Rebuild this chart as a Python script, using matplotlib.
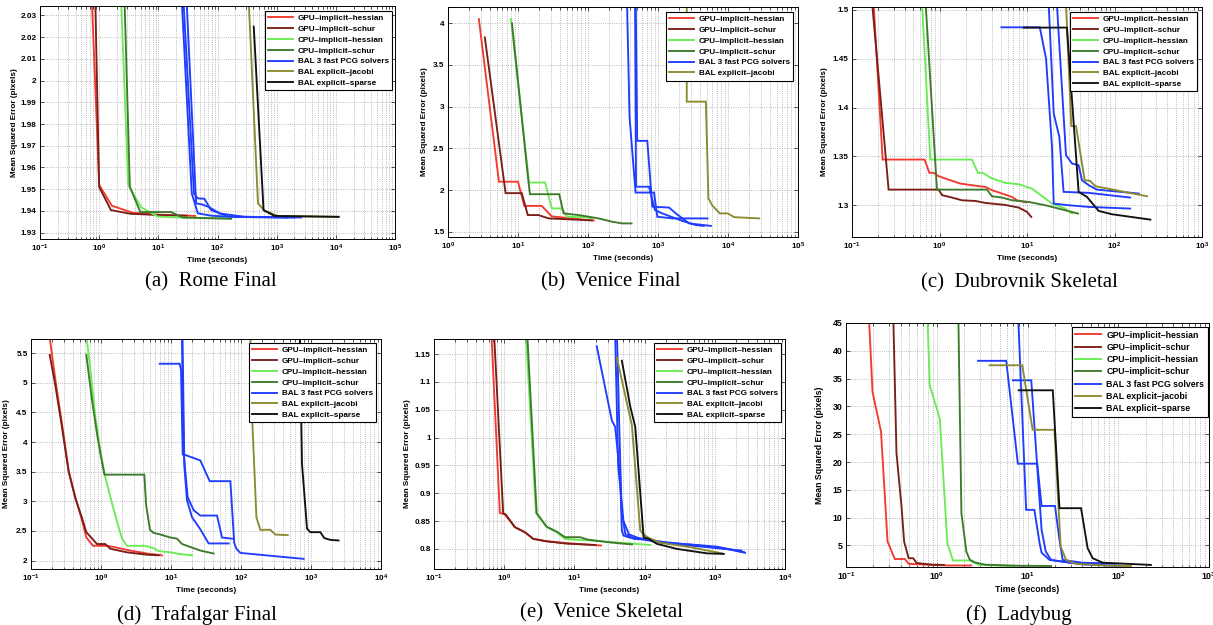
import numpy as np
import matplotlib
matplotlib.use("Agg")
import matplotlib.pyplot as plt
from matplotlib.ticker import LogLocator, FixedLocator, FuncFormatter, NullFormatter

# ---------------------------------------------------------------------------
# Series labels and colours (shared by all panels)
# ---------------------------------------------------------------------------
LABELS = ["GPU\u2013implicit\u2013hessian", "GPU\u2013implicit\u2013schur",
          "CPU\u2013implicit\u2013hessian", "CPU\u2013implicit\u2013schur",
          "BAL 3 fast PCG solvers", "BAL explicit\u2013jacobi",
          "BAL explicit\u2013sparse"]
COLORS = ["#f23a30", "#7a1e18", "#6aec55", "#3d7a2c", "#1f3cff", "#8b8a30", "#111111"]

# ---------------------------------------------------------------------------
# (a) Rome Final : (time [s], mean squared error [px])
# ---------------------------------------------------------------------------
rome_gpu_hessian = ([0.72, 1.0, 1.64, 3.67, 9.75, 18.6, 42],
                    [2.05, 1.952, 1.9424, 1.9392, 1.9383, 1.9381, 1.9377])
rome_gpu_schur = ([0.84, 1.0, 1.58, 3.4, 11, 30],
                  [2.05, 1.951, 1.9404, 1.9387, 1.9381, 1.9378])
rome_cpu_hessian = ([2.25, 3.1, 5.1, 9.8, 27.5, 170],
                    [2.05, 1.952, 1.9417, 1.9374, 1.9369, 1.9366])
rome_cpu_schur = ([2.6, 3.3, 4.95, 16.4, 25.8, 89, 170],
                  [2.05, 1.9512, 1.9395, 1.9395, 1.937, 1.9366, 1.9364])
rome_bal_pcg = [([23.5, 36.7, 46.5, 80, 200, 2600],
                 [2.05, 1.9481, 1.9389, 1.9378, 1.9372, 1.937]),
                ([25, 40, 46.5, 60, 78, 150, 1500],
                 [2.05, 1.948, 1.9458, 1.9456, 1.9404, 1.9375, 1.937]),
                ([28.5, 43.5, 55, 73, 108, 300, 2000],
                 [2.05, 1.9435, 1.943, 1.9417, 1.9389, 1.9372, 1.937])]
rome_bal_jacobi = ([320, 483, 627, 1050, 11000],
                   [2.05, 1.9435, 1.9401, 1.9377, 1.9373])
rome_bal_sparse = ([410, 600, 925, 11200],
                   [2.0248, 1.9404, 1.9377, 1.9373])

# ---------------------------------------------------------------------------
# (b) Venice Final
# ---------------------------------------------------------------------------
venice_gpu_hessian = ([2.76, 5.34, 10, 12.3, 21.8, 30.4, 91, 121],
                      [4.05, 2.10, 2.10, 1.81, 1.81, 1.684, 1.644, 1.636])
venice_gpu_schur = ([3.36, 6.65, 11.3, 13.8, 19.6, 27.3, 114],
                    [3.83, 1.963, 1.963, 1.70, 1.70, 1.66, 1.636])
venice_cpu_hessian = ([7.94, 14.4, 24.4, 30.4, 42.4, 50, 91.5, 114],
                      [4.05, 2.09, 2.09, 1.78, 1.78, 1.68, 1.675, 1.66])
venice_cpu_schur = ([8.2, 13.9, 14.8, 38.8, 44.8, 73.5, 142, 221, 307, 419],
                    [4.0, 2.15, 1.95, 1.95, 1.72, 1.70, 1.66, 1.62, 1.60, 1.60])
venice_bal_pcg = [([360, 392, 478, 877, 977, 1607, 5100],
                   [4.3, 2.88, 1.97, 1.97, 1.68, 1.66, 1.66]),
                  ([480, 505, 703, 829, 1440, 1795, 2790, 5700],
                   [4.3, 2.59, 2.59, 1.80, 1.79, 1.72, 1.60, 1.57]),
                  ([470, 485, 743, 906, 1150, 2230, 3470, 4500],
                   [4.3, 2.04, 2.04, 1.76, 1.72, 1.63, 1.58, 1.57])]
venice_bal_jacobi = ([2575, 2575, 4830, 5250, 6020, 7680, 9890, 12300, 28000],
                     [4.3, 3.06, 3.06, 1.90, 1.81, 1.72, 1.72, 1.675, 1.66])

# ---------------------------------------------------------------------------
# (c) Dubrovnik Skeletal
# ---------------------------------------------------------------------------
dubrovnik_gpu_hessian = ([0.173, 0.224, 0.676, 0.766, 0.855, 0.978, 1.33, 1.73, 2.35,
                          3.34, 3.98, 5.18, 6.74, 7.7, 9.75],
                         [1.52, 1.3468, 1.3468, 1.3332, 1.3332, 1.3297, 1.3256, 1.3222,
                          1.3205, 1.3188, 1.3154, 1.312, 1.3085, 1.305, 1.303])
dubrovnik_gpu_schur = ([0.165, 0.262, 0.978, 1.07, 1.39, 1.8, 2.57, 3.34, 5.65, 8.04, 10, 11.2],
                       [1.52, 1.316, 1.316, 1.3103, 1.3079, 1.3051, 1.3044, 1.3024, 1.3003,
                        1.2976, 1.2932, 1.288])
dubrovnik_cpu_hessian = ([0.62, 0.785, 2.35, 2.75, 3.1, 3.98, 5.65, 8.04, 11.4, 13.6, 19.3, 27.4, 32.7],
                         [1.52, 1.3468, 1.3468, 1.3332, 1.3332, 1.3274, 1.323, 1.3215, 1.317,
                          1.312, 1.3017, 1.2966, 1.2915])
dubrovnik_cpu_schur = ([0.68, 0.935, 3.49, 3.98, 5.18, 6.74, 10.5, 16.2, 23, 38.3],
                       [1.52, 1.316, 1.316, 1.3092, 1.3079, 1.3051, 1.3034, 1.30, 1.2966, 1.2915])
dubrovnik_bal_pcg = [([5.09, 14, 16.5, 19.3, 20.2, 29.9, 50.7, 151],
                      [1.4822, 1.4822, 1.4504, 1.3598, 1.3017, 1.30, 1.2983, 1.2966]),
                     ([17.4, 20.2, 23.4, 26.2, 50.7, 151],
                      [1.52, 1.394, 1.37, 1.3137, 1.3127, 1.3079]),
                     ([21.5, 27.9, 32.7, 38.9, 42.5, 50.7, 63, 189],
                      [1.52, 1.3513, 1.3427, 1.341, 1.3256, 1.3205, 1.316, 1.312])]
dubrovnik_bal_jacobi = ([27.5, 32.1, 36.3, 45.6, 52.6, 60.4, 235],
                        [1.52, 1.381, 1.381, 1.3256, 1.325, 1.3195, 1.3092])
dubrovnik_bal_sparse = ([9.17, 28.6, 32.7, 38.9, 48.5, 65.9, 93.5, 257],
                        [1.4819, 1.4819, 1.4077, 1.3137, 1.3085, 1.2942, 1.2908, 1.2853])

# ---------------------------------------------------------------------------
# (d) Trafalgar Final
# ---------------------------------------------------------------------------
trafalgar_gpu_hessian = ([0.183, 0.223, 0.277, 0.345, 0.43, 0.535, 0.617, 0.77, 1.22, 1.52, 2.62, 4.54, 7.43],
                         [5.8, 5.05, 4.31, 3.52, 3.07, 2.68, 2.39, 2.25, 2.25, 2.23, 2.17, 2.12, 2.09])
trafalgar_gpu_schur = ([0.185, 0.223, 0.277, 0.345, 0.43, 0.535, 0.617, 0.877, 1.15, 1.36, 2.35, 4.54, 6.67],
                       [5.47, 4.95, 4.25, 3.50, 3.05, 2.72, 2.48, 2.28, 2.28, 2.20, 2.14, 2.10, 2.09])
trafalgar_cpu_hessian = ([0.617, 0.705, 0.83, 0.977, 1.15, 1.44, 1.79, 2.0, 2.35, 4.3, 5.65, 6.67, 9.77, 13.6, 20],
                         [5.8, 5.22, 4.43, 3.86, 3.41, 2.96, 2.56, 2.37, 2.25, 2.25, 2.21, 2.16, 2.14, 2.11, 2.09])
trafalgar_cpu_schur = ([0.617, 0.743, 0.877, 0.977, 1.12, 4.16, 4.4, 5.0, 5.6, 7.05, 9.77, 12.2, 14.4, 18.9, 26.2, 40.7],
                       [5.47, 4.71, 4.14, 3.81, 3.45, 3.45, 2.95, 2.52, 2.47, 2.44, 2.39, 2.37, 2.28, 2.23, 2.17, 2.12])
trafalgar_bal_pcg = [([6.89, 13.3, 13.9, 14.7, 16.1, 26.2, 35.7, 70.5, 80, 86, 98, 785],
                      [5.32, 5.32, 5.22, 3.79, 3.78, 3.69, 3.34, 3.34, 2.30, 2.20, 2.13, 2.03]),
                     ([14.3, 15.2, 17.3, 21.1, 26.2, 45.4, 53.6, 74.3],
                      [5.8, 3.8, 3.07, 2.85, 2.76, 2.76, 2.39, 2.37]),
                     ([14.6, 15.5, 16.9, 20, 26.2, 34.5, 66.7],
                      [5.8, 3.6, 3.02, 2.73, 2.53, 2.29, 2.29])]
trafalgar_bal_jacobi = ([136, 144, 166, 189, 262, 309, 465],
                        [5.8, 4.43, 2.73, 2.52, 2.52, 2.44, 2.43])
trafalgar_bal_sparse = ([690, 705, 743, 877, 977, 1360, 1550, 1890, 2480],
                        [5.8, 5.33, 3.64, 2.54, 2.48, 2.48, 2.38, 2.35, 2.34])

# ---------------------------------------------------------------------------
# (e) Venice Skeletal
# ---------------------------------------------------------------------------
vskel_gpu_hessian = ([0.655, 0.867, 1.02, 1.42, 1.97, 2.6, 4.02, 7.77, 24],
                     [1.19, 0.8644, 0.862, 0.839, 0.83, 0.818, 0.8139, 0.8103, 0.806])
vskel_gpu_schur = ([0.715, 0.967, 1.05, 1.42, 1.97, 2.6, 4.02, 7.77, 20],
                   [1.19, 0.8644, 0.862, 0.839, 0.83, 0.818, 0.8135, 0.8095, 0.807])
vskel_cpu_hessian = ([2.03, 2.83, 4.02, 5.6, 7.36, 12.1, 23.3, 121],
                     [1.19, 0.8644, 0.839, 0.83, 0.818, 0.816, 0.814, 0.807])
vskel_cpu_schur = ([2.12, 2.9, 4.02, 5.6, 7.36, 12.1, 15, 30, 66],
                   [1.19, 0.8644, 0.84, 0.831, 0.821, 0.821, 0.817, 0.812, 0.808])
vskel_bal_pcg = [([20.8, 34.1, 38.1, 44.9, 47.4, 50, 62.4, 101, 187, 449, 1080, 2600],
                  [1.164, 1.031, 1.019, 0.929, 0.833, 0.824, 0.82, 0.818, 0.811, 0.808, 0.804, 0.794]),
                 ([40.3, 44, 47, 53, 70, 101, 200, 600, 1500, 2700],
                  [1.19, 1.0, 0.87, 0.827, 0.818, 0.817, 0.812, 0.806, 0.800, 0.793]),
                 ([38, 42, 50, 60, 80, 101, 250, 800, 2400],
                  [1.19, 0.95, 0.85, 0.826, 0.82, 0.816, 0.809, 0.803, 0.797])]
vskel_bal_jacobi = ([40.3, 65.9, 86.7, 96.8, 114, 167, 449, 1270],
                    [1.143, 1.022, 0.833, 0.826, 0.82, 0.811, 0.803, 0.792])
vskel_bal_sparse = ([47.4, 62.4, 73.6, 96.8, 114, 150, 290, 776, 1345],
                    [1.138, 1.056, 1.019, 0.821, 0.818, 0.809, 0.800, 0.792, 0.791])

# ---------------------------------------------------------------------------
# (f) Ladybug
# ---------------------------------------------------------------------------
ladybug_gpu_hessian = ([0.179, 0.196, 0.243, 0.287, 0.345, 0.445, 0.49, 0.738, 1.33, 2.4],
                       [46, 32.6, 25.5, 5.7, 2.56, 2.56, 1.7, 1.55, 1.4, 1.4])
ladybug_gpu_schur = ([0.332, 0.36, 0.409, 0.437, 0.49, 0.55, 0.6, 0.875, 1.2],
                     [46, 21.6, 12, 5.7, 2.7, 2.7, 1.85, 1.55, 1.5])
ladybug_cpu_hessian = ([0.79, 0.837, 1.08, 1.31, 1.51, 2.31, 2.85, 5.58, 7.2],
                       [46, 33.8, 27.8, 5.4, 2.3, 2.3, 1.55, 1.3, 1.25])
ladybug_cpu_schur = ([1.73, 1.87, 2.12, 2.31, 2.61, 3.36, 8, 18.2],
                     [46, 10.8, 3.9, 2.44, 1.97, 1.55, 1.35, 1.3])
ladybug_bal_pcg = [([2.85, 5.83, 7.83, 12.8, 14.3, 20.1, 22.5, 24.4, 40, 94],
                    [38.2, 38.2, 19.7, 19.7, 12.1, 12.1, 6.0, 2.4, 1.9, 1.7]),
                   ([7.9, 9.66, 11.9, 13.6, 14.3, 17.5, 40, 107],
                    [46, 11.4, 11.4, 5.4, 3.7, 2.4, 1.6, 1.3]),
                   ([6.9, 11, 14.3, 15.9, 18.2, 30, 70],
                    [34.7, 34.7, 7.8, 3.9, 2.4, 1.9, 1.7])]
ladybug_bal_jacobi = ([3.82, 8.75, 11.4, 19.8, 23.2, 26.6, 34.3, 79.4, 138],
                      [37.4, 37.4, 25.8, 25.8, 4.8, 2.4, 1.7, 1.35, 1.3])
ladybug_bal_sparse = ([8.0, 19, 22.5, 38.9, 46, 52.3, 67.3, 229],
                      [32.9, 32.9, 11.7, 11.7, 4.5, 2.7, 1.9, 1.5])

# ---------------------------------------------------------------------------
# Figure layout (pixel boxes: left, top, right, bottom)
# ---------------------------------------------------------------------------
W, H = 1213, 625
plt.rcParams['font.family'] = ['Liberation Sans', 'DejaVu Sans']
plt.rcParams['font.weight'] = 'bold'
plt.rcParams['mathtext.fontset'] = 'custom'
plt.rcParams['mathtext.rm'] = 'Liberation Sans:bold'
plt.rcParams['mathtext.it'] = 'Liberation Sans:bold'
plt.rcParams['mathtext.bf'] = 'Liberation Sans:bold'
plt.rcParams['axes.linewidth'] = 0.7

fig = plt.figure(figsize=(W / 100, H / 100), dpi=100)

panels = [
    dict(series=[rome_gpu_hessian, rome_gpu_schur, rome_cpu_hessian, rome_cpu_schur,
                 rome_bal_pcg, rome_bal_jacobi, rome_bal_sparse],
         box=(40, 6, 395, 239), xlim=(1e-1, 1e5), ylim=(1.9271, 2.0343),
         yticks=np.round(np.arange(1.93, 2.0301, 0.01), 2), legend_at=(392, 11),
         ylab_dx=25, caption="(a)  Rome Final", cap_at=(211, 282), fs=5.9),
    dict(series=[venice_gpu_hessian, venice_gpu_schur, venice_cpu_hessian, venice_cpu_schur,
                 venice_bal_pcg, venice_bal_jacobi, None],
         box=(448, 7, 798, 237), xlim=(1e0, 1e5), ylim=(1.437, 4.195),
         yticks=np.arange(1.5, 4.01, 0.5), legend_at=(793, 12),
         ylab_dx=23, caption="(b)  Venice Final", cap_at=(611, 282), fs=5.9),
    dict(series=[dubrovnik_gpu_hessian, dubrovnik_gpu_schur, dubrovnik_cpu_hessian,
                 dubrovnik_cpu_schur, dubrovnik_bal_pcg, dubrovnik_bal_jacobi,
                 dubrovnik_bal_sparse],
         box=(852, 7, 1202, 237), xlim=(1e-1, 1e3), ylim=(1.2675, 1.503),
         yticks=np.round(np.arange(1.3, 1.5001, 0.05), 2), legend_at=(1197, 12),
         ylab_dx=28, caption="(c)  Dubrovnik Skeletal", cap_at=(1019, 283), fs=5.9),
    dict(series=[trafalgar_gpu_hessian, trafalgar_gpu_schur, trafalgar_cpu_hessian,
                 trafalgar_cpu_schur, trafalgar_bal_pcg, trafalgar_bal_jacobi,
                 trafalgar_bal_sparse],
         box=(31, 339, 381, 569), xlim=(1e-1, 1e4), ylim=(1.859, 5.737),
         yticks=np.arange(2, 5.51, 0.5), legend_at=(376, 343),
         ylab_dx=24, caption="(d)  Trafalgar Final", cap_at=(197, 615), fs=5.9),
    dict(series=[vskel_gpu_hessian, vskel_gpu_schur, vskel_cpu_hessian, vskel_cpu_schur,
                 vskel_bal_pcg, vskel_bal_jacobi, vskel_bal_sparse],
         box=(434, 339, 785, 569), xlim=(1e-1, 1e4), ylim=(0.7639, 1.177),
         yticks=np.round(np.arange(0.8, 1.1501, 0.05), 2), legend_at=(781, 343),
         ylab_dx=27, caption="(e)  Venice Skeletal", cap_at=(601, 613), fs=5.9),
    dict(series=[ladybug_gpu_hessian, ladybug_gpu_schur, ladybug_cpu_hessian,
                 ladybug_cpu_schur, ladybug_bal_pcg, ladybug_bal_jacobi, ladybug_bal_sparse],
         box=(846, 323, 1209, 567), xlim=(1e-1, 1e3), ylim=(1.125, 45),
         yticks=np.arange(5, 45.1, 5), legend_at=(1208, 327),
         ylab_dx=26, caption="(f)  Ladybug", cap_at=(1019, 615), fs=6.3),
]

LW = 1.35
GRID = "#a6a6a6"
fmt_g = FuncFormatter(lambda v, pos: "%g" % v)

for p in panels:
    l, t, r, b = p["box"]
    ax = fig.add_axes([l / W, 1 - b / H, (r - l) / W, (b - t) / H])
    ax.set_xscale("log")
    handles, labels = [], []
    for k, s in enumerate(p["series"]):
        if s is None:
            continue
        if k == 4:  # three BAL PCG runs share one legend entry
            for j, (tt, ee) in enumerate(s):
                ln, = ax.plot(tt, ee, color=COLORS[k], lw=LW, solid_joinstyle="miter")
                if j == 0:
                    handles.append(ln)
                    labels.append(LABELS[k])
        else:
            ln, = ax.plot(s[0], s[1], color=COLORS[k], lw=LW, solid_joinstyle="miter")
            handles.append(ln)
            labels.append(LABELS[k])

    ax.set_xlim(*p["xlim"])
    ax.set_ylim(*p["ylim"])
    ax.xaxis.set_major_locator(LogLocator(base=10, numticks=20))
    ax.xaxis.set_minor_locator(LogLocator(base=10, subs=np.arange(2, 10), numticks=100))
    ax.xaxis.set_minor_formatter(NullFormatter())
    ax.yaxis.set_major_locator(FixedLocator(p["yticks"]))
    ax.yaxis.set_major_formatter(fmt_g)

    ax.grid(True, which="major", ls=":", color=GRID, lw=0.6)
    ax.grid(True, which="minor", axis="x", ls=":", color=GRID, lw=0.6)
    ax.set_axisbelow(True)
    ax.tick_params(which="both", direction="in", top=True, right=True,
                   labelsize=p["fs"], width=0.6, pad=2.5, color="#333333")
    ax.tick_params(which="major", length=3)
    ax.tick_params(which="minor", length=1.8)
    for lab in ax.get_xticklabels() + ax.get_yticklabels():
        lab.set_fontweight("bold")

    ax.set_xlabel("Time (seconds)", fontsize=p["fs"], fontweight="bold", labelpad=2)
    ax.set_ylabel("Mean Squared Error (pixels)", fontsize=p["fs"], fontweight="bold",
                  va="center")
    ax.yaxis.set_label_coords(-p["ylab_dx"] / (r - l), 0.5)

    lx, ly = p["legend_at"]
    leg = ax.legend(handles, labels, loc="upper right",
                    bbox_to_anchor=(lx / W, 1 - ly / H), bbox_transform=fig.transFigure,
                    borderaxespad=0, fontsize=p["fs"], frameon=True, fancybox=False,
                    framealpha=1, edgecolor="black", handlelength=3.0,
                    handletextpad=0.6, labelspacing=0.38, borderpad=0.4)
    leg.get_frame().set_linewidth(0.8)
    for txt in leg.get_texts():
        txt.set_fontweight("bold")

    cx, cy = p["cap_at"]
    fig.text(cx / W, 1 - cy / H, p["caption"], ha="center", va="center",
             fontsize=15, fontweight="normal", family="Liberation Serif")

fig.savefig("out.png", dpi=100)
